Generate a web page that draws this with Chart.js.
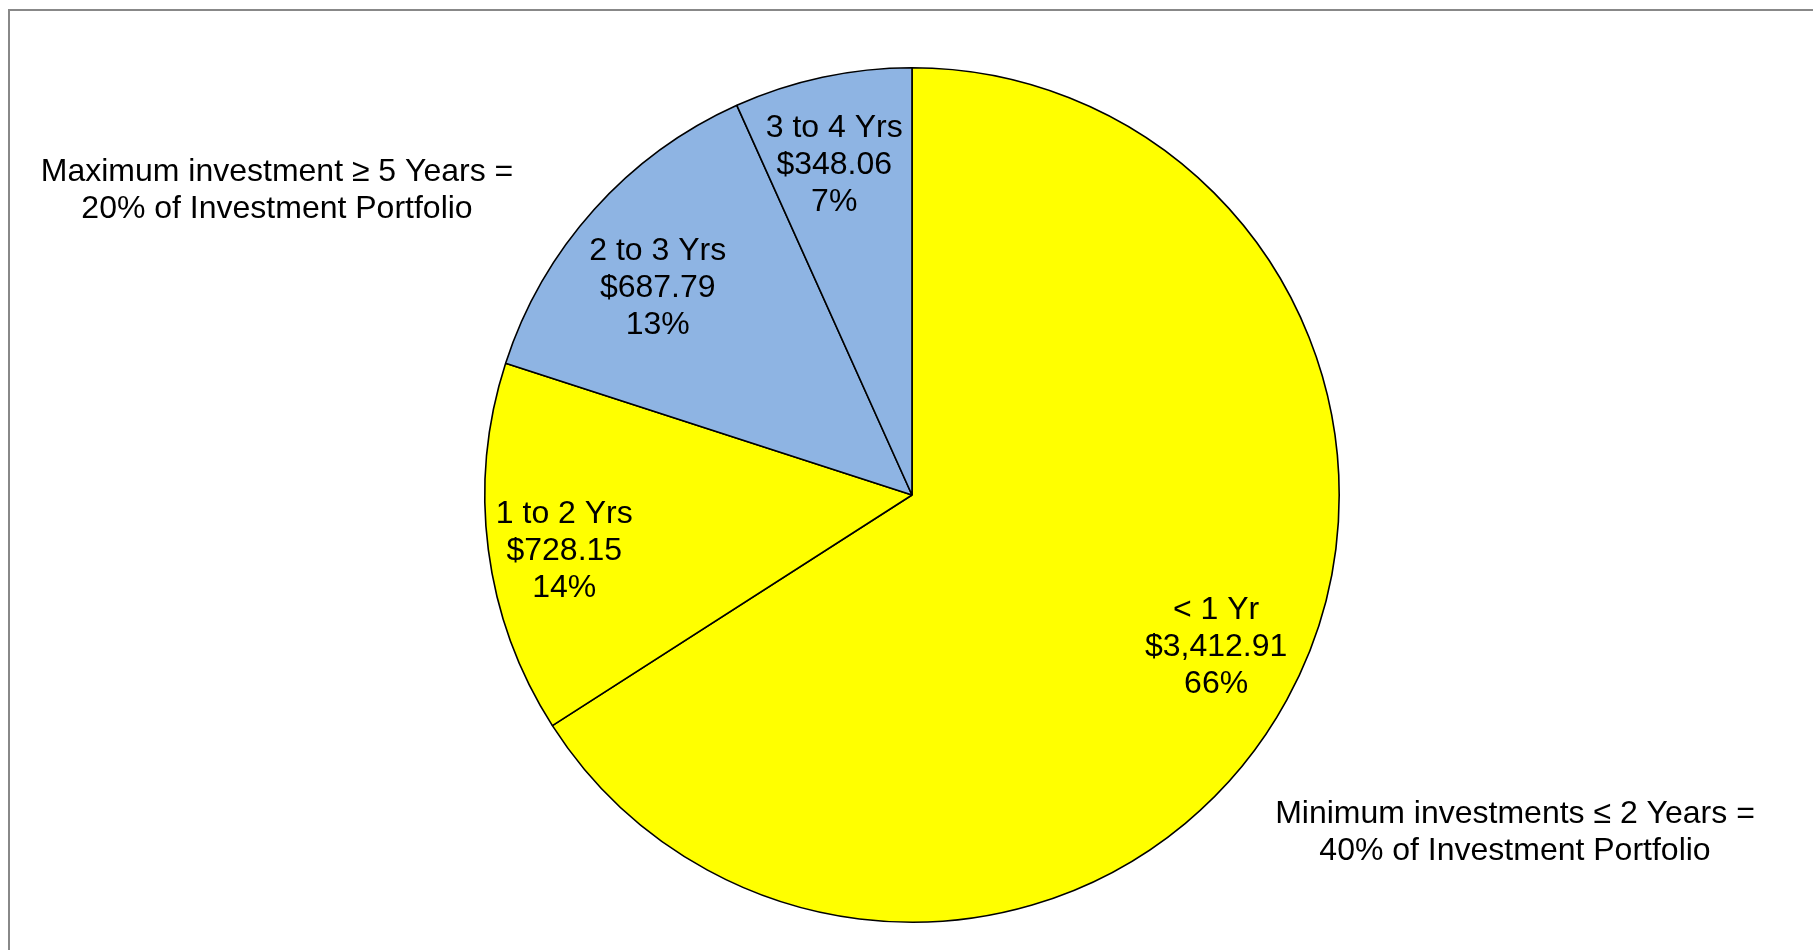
<!DOCTYPE html>
<html>
<head>
<meta charset="utf-8">
<script src="https://cdn.jsdelivr.net/npm/chart.js@4/dist/chart.umd.min.js"></script>
<style>
  html, body { margin: 0; padding: 0; background: #fff; }
  #wrap { position: relative; width: 1813px; height: 950px; overflow: hidden; }
  #frame {
    position: absolute; left: 8px; top: 9px; width: 1830px; height: 960px;
    border-top: 2px solid #888; border-left: 2px solid #888;
  }
  canvas { position: absolute; left: 0; top: 0; }
</style>
</head>
<body>
<div id="wrap">
  <div id="frame"></div>
  <canvas id="pie" width="1813" height="950"></canvas>
</div>
<script>
const categories = ['< 1 Yr', '1 to 2 Yrs', '2 to 3 Yrs', '3 to 4 Yrs'];
const amounts = [3412.91, 728.15, 687.79, 348.06];
const sliceColors = ['#FFFF00', '#FFFF00', '#8EB4E3', '#8EB4E3'];
const notes = [
  { lines: ['Maximum investment \u2265 5 Years =', '20% of Investment Portfolio'], x: 277, y: 172 },
  { lines: ['Minimum investments \u2264 2 Years =', '40% of Investment Portfolio'], x: 1515, y: 814 }
];

const FONT = '32px "Liberation Sans", Arial, sans-serif';
const LINE_H = 37;

function fmtMoney(v) {
  return '$' + v.toLocaleString('en-US', { minimumFractionDigits: 2, maximumFractionDigits: 2 });
}

// Labels inside each slice: category, amount, percent
const sliceLabels = {
  id: 'sliceLabels',
  afterDatasetsDraw(chart, args, opts) {
    const ctx = chart.ctx;
    const meta = chart.getDatasetMeta(0);
    const data = chart.data.datasets[0].data;
    const total = data.reduce((a, b) => a + b, 0);
    ctx.save();
    ctx.font = FONT;
    ctx.fillStyle = '#000';
    ctx.textAlign = 'center';
    ctx.textBaseline = 'middle';
    meta.data.forEach((arc, i) => {
      const { x, y, startAngle, endAngle, outerRadius } = arc.getProps(['x', 'y', 'startAngle', 'endAngle', 'outerRadius'], true);
      const mid = (startAngle + endAngle) / 2;
      const r = outerRadius * 0.79;
      const nudge = (opts.nudge && opts.nudge[i]) || [0, 0];
      const cx = x + Math.cos(mid) * r + nudge[0];
      const cy = y + Math.sin(mid) * r + nudge[1];
      const lines = [chart.data.labels[i], fmtMoney(data[i]), Math.round(data[i] / total * 100) + '%'];
      lines.forEach((t, k) => ctx.fillText(t, cx, cy + (k - 1) * LINE_H));
    });
    ctx.restore();
  }
};

const notesPlugin = {
  id: 'notes',
  afterDraw(chart) {
    const ctx = chart.ctx;
    ctx.save();
    ctx.font = FONT;
    ctx.fillStyle = '#000';
    ctx.textAlign = 'center';
    ctx.textBaseline = 'middle';
    notes.forEach(n => n.lines.forEach((t, k) => ctx.fillText(t, n.x, n.y + k * LINE_H)));
    ctx.restore();
  }
};

new Chart(document.getElementById('pie'), {
  type: 'pie',
  data: {
    labels: categories,
    datasets: [{
      data: amounts,
      backgroundColor: sliceColors,
      borderColor: '#000',
      borderWidth: 1.6,
      borderAlign: 'center'
    }]
  },
  options: {
    responsive: false,
    animation: false,
    devicePixelRatio: 1,
    layout: { padding: { left: 11, right: 0, top: 67, bottom: 27 } },
    plugins: {
      legend: { display: false },
      tooltip: { enabled: false },
      sliceLabels: { nudge: [[8, -10], [-13, 13], [-3, 18], [-7, 0]] }
    }
  },
  plugins: [sliceLabels, notesPlugin]
});
</script>
</body>
</html>
